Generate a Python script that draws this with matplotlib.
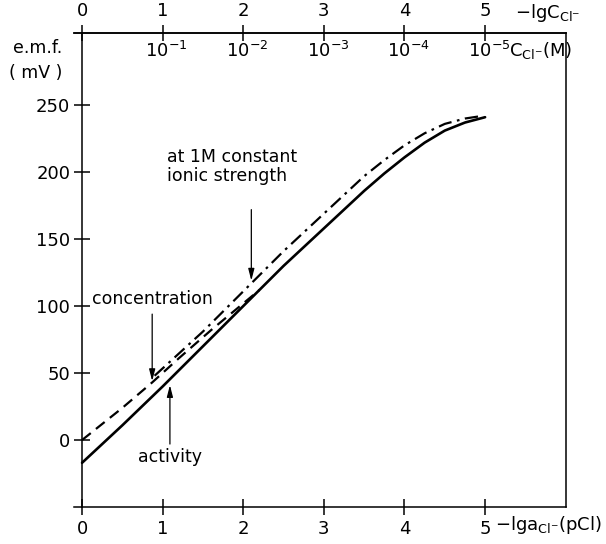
import numpy as np
import matplotlib
matplotlib.use("Agg")
import matplotlib.pyplot as plt

plt.rcParams['font.family'] = ['DejaVu Sans']
plt.rcParams['mathtext.default'] = 'regular'

# curves (x = pCl, y = e.m.f. in mV)
x_activity = [0, 0.5, 1.0, 1.5, 2.0, 2.5, 3.0, 3.25, 3.5, 3.75, 4.0, 4.25, 4.5, 4.75, 5.0]
y_activity = [-17, 11, 40, 70, 100, 130, 158, 172, 186, 199, 211, 222, 231, 237, 241]

x_conc = [0, 0.5, 0.87, 1.2, 1.6, 2.0, 2.2]
y_conc = [0, 24, 43, 61, 82, 102, 112]

x_ionic = [0.9, 1.5, 2.0, 2.5, 3.0, 3.25, 3.5, 3.75, 4.0, 4.25, 4.5, 4.75, 4.97]
y_ionic = [48, 81, 111, 141, 169, 183, 197, 209, 220, 229, 236, 240, 242]

bottom_ticks = [0, 1, 2, 3, 4, 5]
bottom_labels = ['0', '1', '2', '3', '4', '5']
top_ticks = [0, 1, 2, 3, 4, 5]
top_labels = ['0', '1', '2', '3', '4', '5']
conc_ticks = [1, 2, 3, 4, 5]
conc_labels = [r'$10^{-1}$', r'$10^{-2}$', r'$10^{-3}$', r'$10^{-4}$', r'$10^{-5}$']
y_ticks = [0, 50, 100, 150, 200, 250]

fig = plt.figure(figsize=(6.06, 5.44), dpi=100)
ax = fig.add_axes([0.1221, 0.0680, 0.8114, 0.8717])
ax.set_xlim(-0.1, 6.0)
ax.set_ylim(-50, 304)

lw_axis = 1.1
for s in ax.spines.values():
    s.set_linewidth(lw_axis)
ax.spines['left'].set_position(('data', 0))

ax.plot(x_activity, y_activity, color='black', lw=1.9, solid_capstyle='round',
        solid_joinstyle='round')
ax.plot(x_conc, y_conc, color='black', lw=1.6, dashes=(5, 3))
ax.plot(x_ionic, y_ionic, color='black', lw=1.6, dashes=(6, 2.5, 1.2, 2.5))

ax.set_xticks(bottom_ticks)
ax.set_xticklabels(bottom_labels)
ax.set_yticks(y_ticks)
ax.tick_params(axis='both', direction='inout', length=11, width=lw_axis,
               labelsize=13, pad=3)
ax.tick_params(axis='x', pad=4)

top = ax.secondary_xaxis('top')
top.set_xticks(top_ticks)
top.set_xticklabels(top_labels)
top.tick_params(direction='inout', length=11, width=lw_axis, labelsize=13, pad=4)
top.spines['top'].set_linewidth(lw_axis)

xt = ax.get_xaxis_transform()
for x, lab in zip(conc_ticks, conc_labels):
    ax.text(x + 0.05, 0.962, lab, transform=xt, ha='center', va='center', fontsize=13)
ax.text(5.3, 0.962, r'$C_{Cl^{-}}(M)$', transform=xt, ha='left', va='center', fontsize=13)
ax.text(5.37, 1.042, r'$-lgC_{Cl^{-}}$', transform=xt, ha='left', va='center', fontsize=13)
ax.text(5.12, -0.038, r'$-lga_{Cl^{-}}(pCl)$', transform=xt, ha='left', va='center',
        fontsize=13, clip_on=False)

fig.text(38 / 606, 1 - 48 / 544, 'e.m.f.', ha='center', va='center', fontsize=12.5)
fig.text(36 / 606, 1 - 73 / 544, '( mV )', ha='center', va='center', fontsize=12.5)

arrow = dict(arrowstyle='-|>,head_length=0.7,head_width=0.18', color='black',
             lw=0.9, shrinkA=0, shrinkB=0)
ax.text(1.06, 204, 'at 1M constant\nionic strength', fontsize=12.5,
        ha='left', va='center', linespacing=1.1)
ax.annotate('', xy=(2.1, 119), xytext=(2.1, 172), arrowprops=arrow)

ax.text(0.12, 105, 'concentration', fontsize=12.5, ha='left', va='center')
ax.annotate('', xy=(0.87, 44), xytext=(0.87, 94), arrowprops=arrow)

ax.text(1.09, -13, 'activity', fontsize=12.5, ha='center', va='center')
ax.annotate('', xy=(1.09, 41), xytext=(1.09, -3), arrowprops=arrow)

fig.savefig('out.png', dpi=100)
